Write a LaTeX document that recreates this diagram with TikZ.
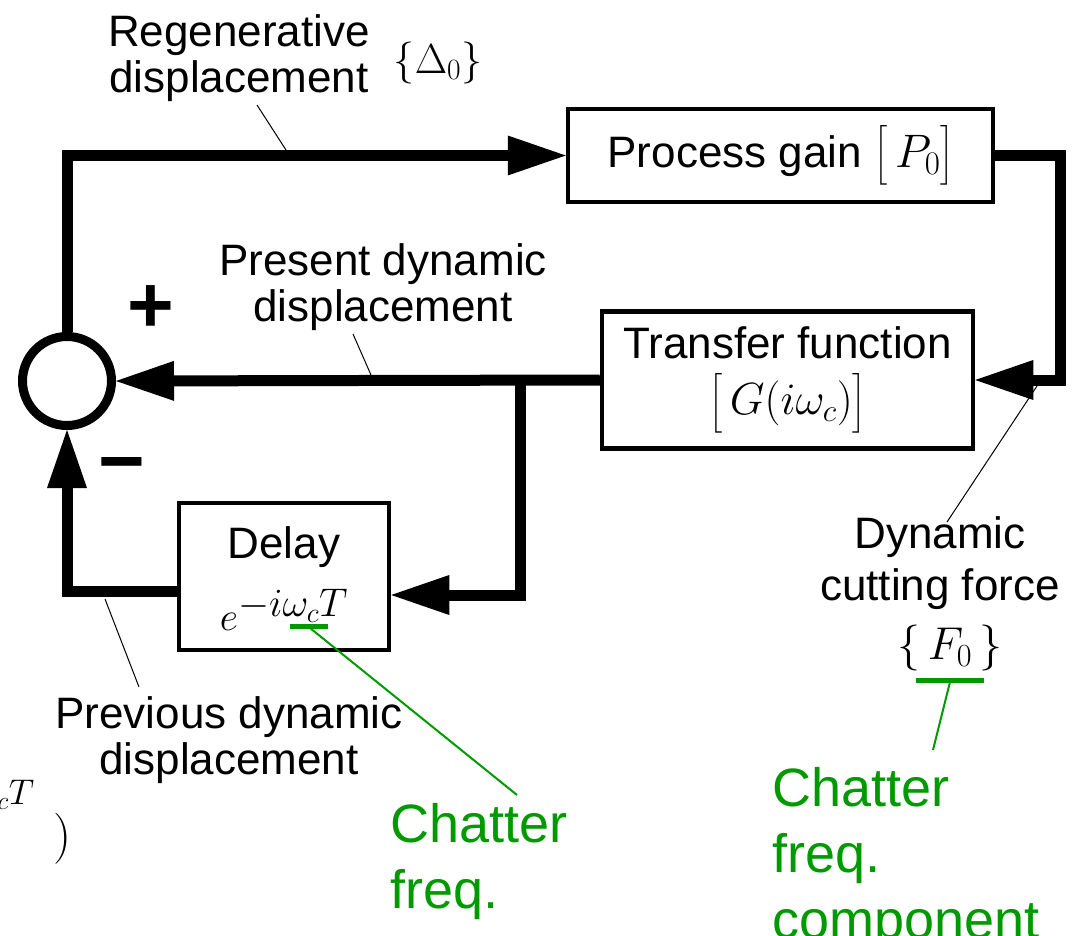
\RequirePackage{fix-cm}
\documentclass[tikz,border=0pt]{standalone}
\usepackage{amsmath}
\usepackage{fontspec}
\setmainfont{Liberation Sans}
\usetikzlibrary{arrows.meta}
\definecolor{chgreen}{RGB}{0,153,0}
\newcommand{\mth}[2]{{\fontsize{#1}{#1}\selectfont$#2$}}
\begin{document}
\begin{tikzpicture}[x=1pt,y=-1pt,
  blk/.style={draw, line width=4.5pt, inner sep=0pt, align=center,
              font=\fontsize{44}{46}\selectfont},
  txt/.style={font=\fontsize{44}{46}\selectfont, align=center, inner sep=0pt},
  wire/.style={line width=11pt, line join=miter},
  tip/.style={-{Triangle[length=58pt,width=40pt,line width=0pt]}},
  lead/.style={line width=1pt},
  gtxt/.style={text=chgreen, font=\fontsize{54}{66}\selectfont, align=left, inner sep=0pt},
  glead/.style={chgreen, line width=2pt},
  gbar/.style={chgreen, line width=5pt},
  sign/.style={inner sep=0pt, font=\fontsize{80}{80}\selectfont\bfseries},
]
\useasboundingbox (0,0) rectangle (1081,936);

% blocks
\node[blk, minimum width=425pt, minimum height=93pt] (pg) at (780.5,155.5)
  {Process gain \mth{47}{\bigl[\,P_{0}\bigr]}};
\node[blk, minimum width=371pt, minimum height=137pt] (tf) at (787.5,380)
  {Transfer function\\[10pt]\mth{45}{\bigl[\,G(i\omega_c)\bigr]}};
\node[blk, minimum width=210pt, minimum height=147pt] (dl) at (284,576.5)
  {\rule{0pt}{36pt}Delay\\[21pt]\mth{40}{e^{\textstyle -i\omega_c T}}};
\node[circle, draw, line width=9pt, minimum size=89pt, inner sep=0pt] (sum) at (67,381) {};

% wires
\coordinate (rc) at (1060,380);
\coordinate (j) at (520,380);
\draw[wire, tip] (sum.north) |- (pg.west);
\draw[wire, tip] (pg.east) -| (rc) -- (tf.east);
\draw[wire, tip] (tf.west) -- (sum.east);
\draw[wire, tip] (j) |- ([yshift=-18.5pt]dl.east);
\draw[wire, tip] ([yshift=-15pt]dl.west) -| (sum.south);

% signs
\node[sign] (plus) at (151,309) {+};
\node[sign] (minus) at (122,473) {−};

% labels
\node[txt] (regen) at (239,58) {Regenerative\\displacement};
\node[inner sep=0pt] (delta) at (438,63) {\mth{42}{\{\Delta_{0}\}}};
\coordinate (regA) at (257,105);
\coordinate (regB) at (286,150);
\draw[lead] (regA) -- (regB);

\node[txt] (pres) at (383,287) {Present dynamic\\displacement};
\coordinate (presA) at (353,334);
\coordinate (presB) at (371,375);
\draw[lead] (presA) -- (presB);

\node[txt, font=\fontsize{44}{52}\selectfont] (dcf) at (940,563) {Dynamic\\cutting force};
\coordinate (dcfA) at (947,522);
\coordinate (dcfB) at (1037,386);
\draw[lead] (dcfA) -- (dcfB);

\node[inner sep=0pt] (f0) at (950,648) {\mth{46}{\{\,F_0\,\}}};

\node[txt] (prev) at (229,740.5) {Previous dynamic\\displacement};
\coordinate (prevA) at (105,599);
\coordinate (prevB) at (139,687);
\draw[lead] (prevA) -- (prevB);

% green annotations
\coordinate (u1a) at (290,626.5);
\coordinate (u1b) at (328,626.5);
\draw[gbar] (u1a) -- (u1b);
\node[gtxt, anchor=north west] (cf) at (390,803) {Chatter\\freq.};
\coordinate (g1a) at (310,628);
\coordinate (g1b) at (517,795);
\draw[glead] (g1a) -- (g1b);

\coordinate (u2a) at (916,680);
\coordinate (u2b) at (984,680);
\draw[gbar] (u2a) -- (u2b);
\node[gtxt, anchor=north west] (cfc) at (772,767) {Chatter\\freq.\\component};
\coordinate (g2a) at (950,682);
\coordinate (g2b) at (933,750);
\draw[glead] (g2a) -- (g2b);

% clipped formula fragment at bottom left
\node[anchor=base east, inner sep=0pt] (frag) at (72,851)
  {\mth{51}{(1-e^{\raisebox{28pt}{$\scriptstyle -i\omega_c T$}}\hspace{19pt})}};
\end{tikzpicture}
\end{document}
